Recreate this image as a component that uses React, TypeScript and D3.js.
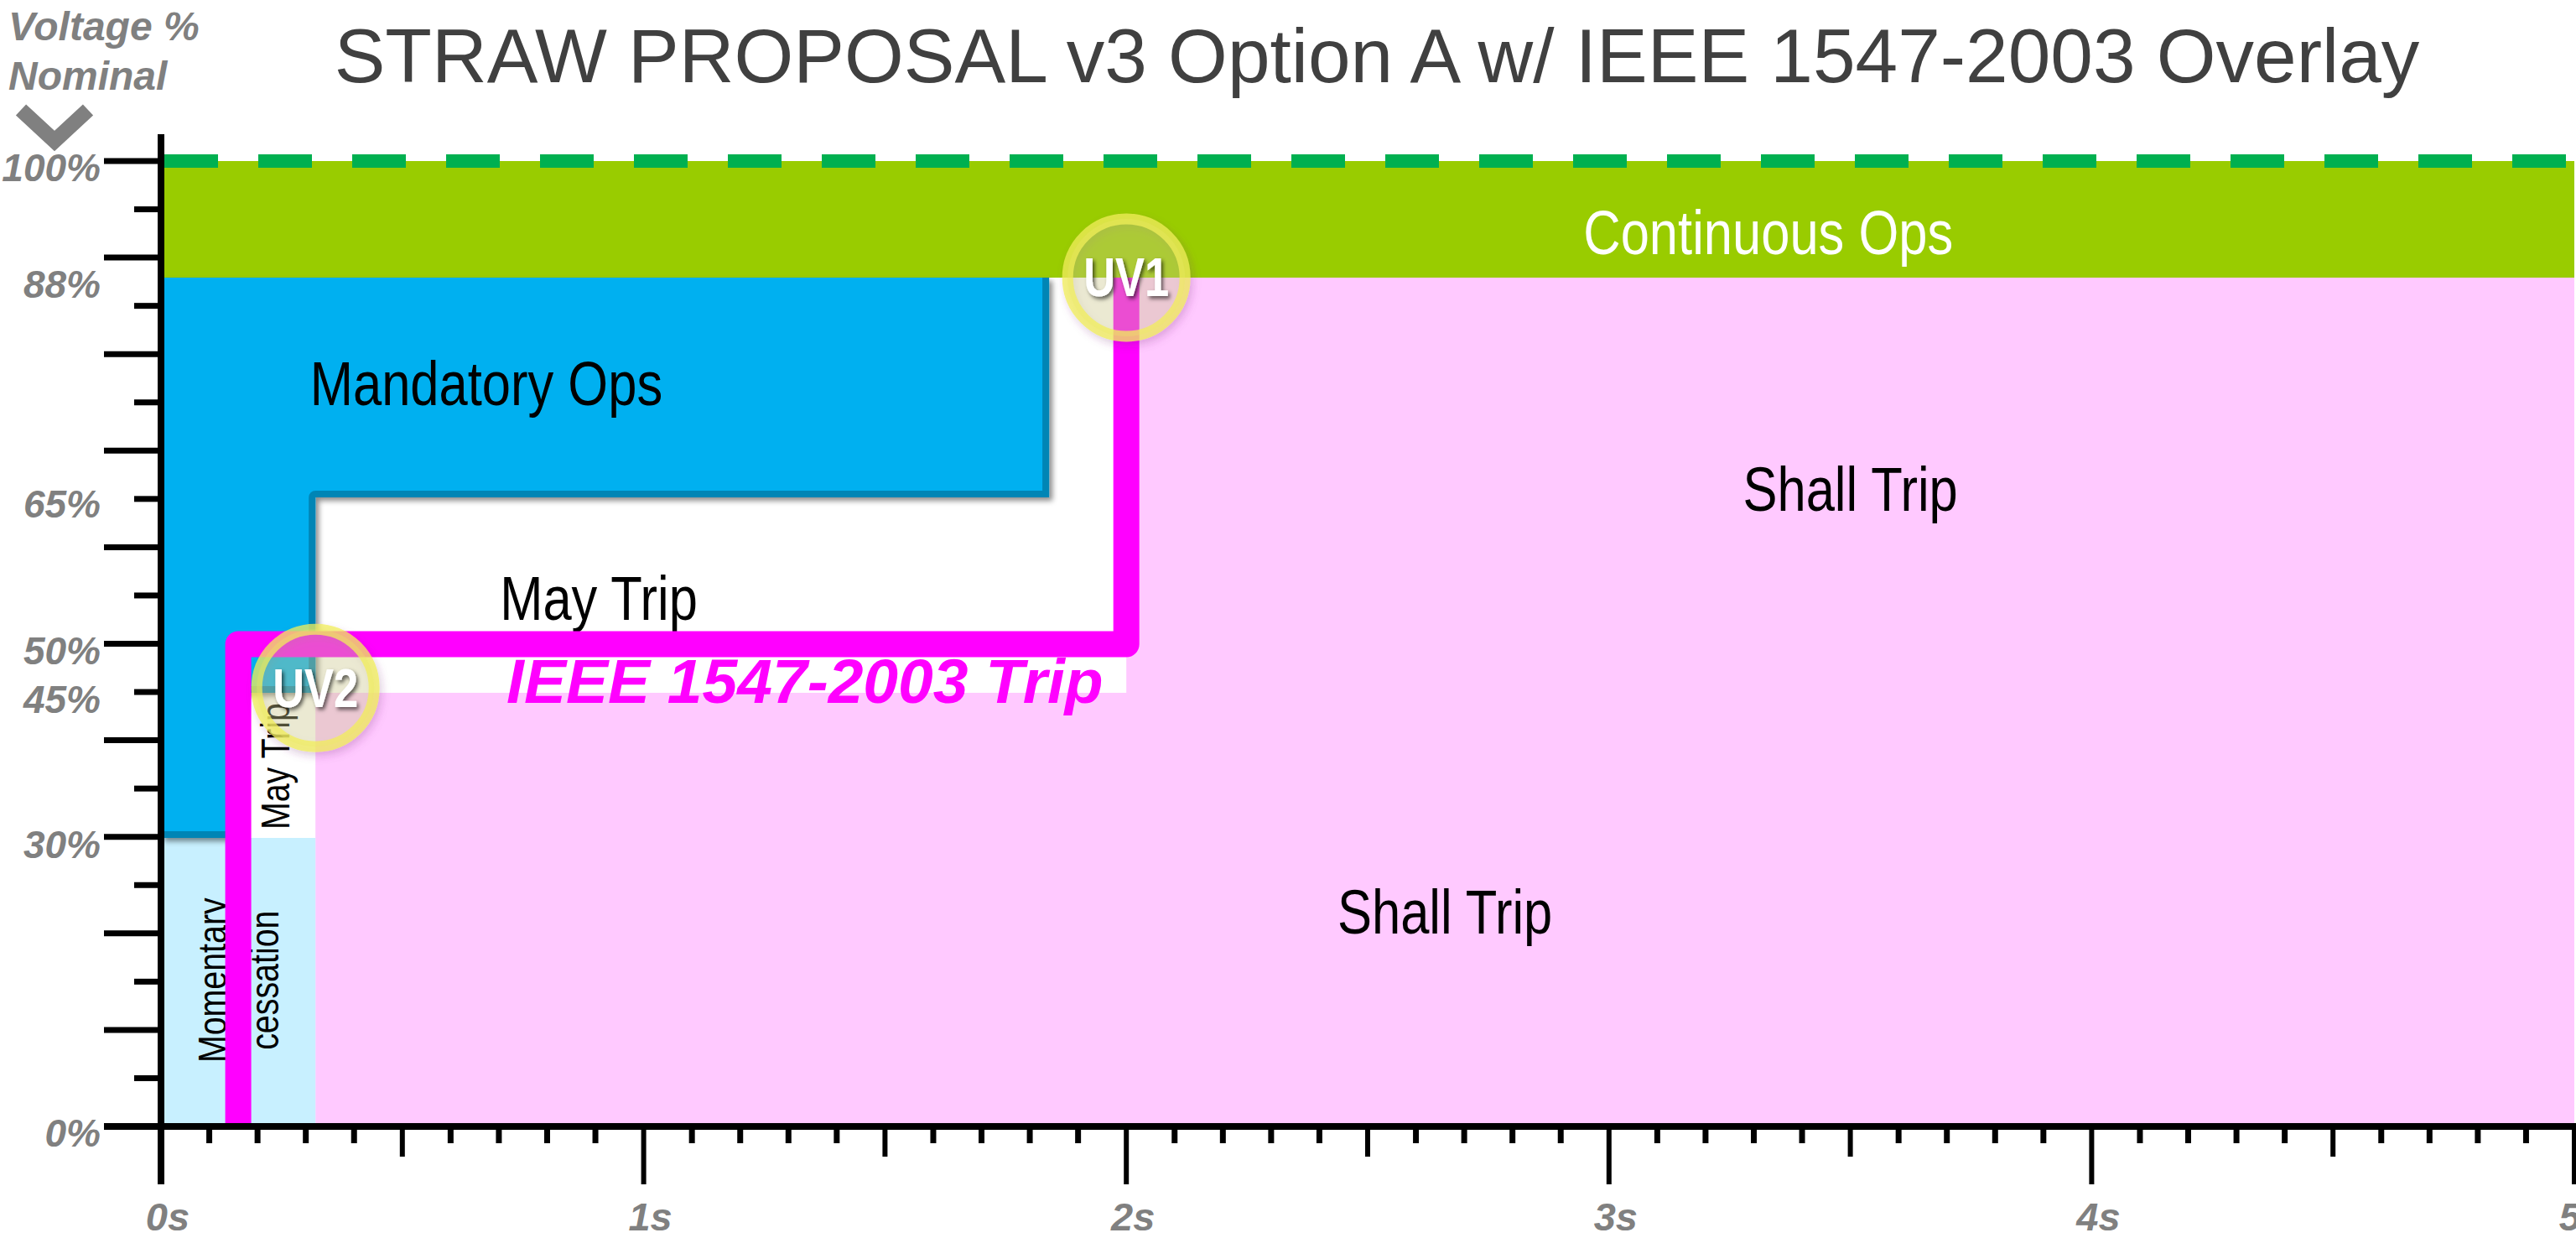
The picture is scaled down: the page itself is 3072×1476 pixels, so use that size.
import React from "react";
import * as d3 from "d3";

// ---------- data (time in seconds, voltage in % of nominal) ----------
const yTickLabels = [100, 88, 65, 50, 45, 30, 0];
const yScaleBreaks = [0, 30, 45, 50, 65, 88, 100];
const xTickLabels = [0, 1, 2, 3, 4, 5];
const timeDomain = [0, 5];

const continuousOps = { t0: 0, t1: 5, v0: 88, v1: 100 };
const shallTripUpper = { t0: 2, t1: 5, v0: 45, v1: 88 };
const shallTripLower = { t0: 0.32, t1: 5, v0: 0, v1: 45 };
const momentaryCessation = { t0: 0, t1: 0.32, v0: 0, v1: 30 };

const mandatoryOpsShape: [number, number][] = [
  [0, 88], [1.84, 88], [1.84, 65], [0.32, 65], [0.32, 45], [0.16, 45], [0.16, 30], [0, 30],
];
const mandatoryOpsEdge: [number, number][] = [
  [1.84, 88], [1.84, 65], [0.32, 65], [0.32, 45], [0.16, 45], [0.16, 30], [0, 30],
];
const ieeeTrip: [number, number][] = [[0.16, 0], [0.16, 50], [2, 50], [2, 88]];
const uvPoints = [
  { label: "UV1", t: 2, v: 88 },
  { label: "UV2", t: 0.32, v: 45.5 },
];

const regionLabels = [
  { text: "Continuous Ops", t: 3.33, v: 90.4, color: "#ffffff" },
  { text: "Mandatory Ops", t: 0.674, v: 74.7, color: "#000000" },
  { text: "May Trip", t: 0.907, v: 52.5, color: "#000000" },
  { text: "Shall Trip", t: 3.5, v: 63.6, color: "#000000" },
  { text: "Shall Trip", t: 2.66, v: 20.1, color: "#000000" },
];
const verticalLabels = [
  { text: "May Trip", t: 0.266, v: 37.4, size: 48 },
  { text: "Momentary", t: 0.1355, v: 15.2, size: 48 },
  { text: "cessation", t: 0.243, v: 15.2, size: 48 },
];
const ieeeLabel = { text: "IEEE 1547-2003 Trip", t: 1.334, v: 44.0 };

const title = "STRAW PROPOSAL v3 Option A w/ IEEE 1547-2003 Overlay";
const yTitle = ["Voltage %", "Nominal"];

// ---------- styling ----------
const SANS = "'Liberation Sans', Arial, sans-serif";
const GRAY = "#808080";
const CONDENSE = 0.82;

function NarrowText(props: {
  x: number;
  y: number;
  rotate?: number;
  size: number;
  fill: string;
  bold?: boolean;
  central?: boolean;
  filter?: string;
  children: React.ReactNode;
}) {
  const { x, y, rotate = 0, size, fill, bold, central, filter, children } = props;
  return (
    <g transform={`translate(${x},${y}) rotate(${rotate}) scale(${CONDENSE},1)`}>
      <text
        textAnchor="middle"
        dominantBaseline={central ? "central" : undefined}
        fontFamily={SANS}
        fontWeight={bold ? "bold" : "normal"}
        fontSize={size}
        fill={fill}
        filter={filter}
      >
        {children}
      </text>
    </g>
  );
}

export default function App() {
  const W = 3072;
  const H = 1476;
  const x = d3.scaleLinear().domain(timeDomain).range([192, 3070]);
  const y = d3.scaleLinear().domain(yScaleBreaks).range([1343, 999, 826, 768, 593, 331, 192]);
  const ruler = d3.scaleLinear().domain([0, 20]).range([y(100), y(0)]);

  const line = d3.line<[number, number]>().x((d) => x(d[0])).y((d) => y(d[1]));
  const rect = (r: { t0: number; t1: number; v0: number; v1: number }, fill: string, key: string) => (
    <rect key={key} x={x(r.t0)} y={y(r.v1)} width={x(r.t1) - x(r.t0)} height={y(r.v0) - y(r.v1)} fill={fill} />
  );

  const xTicks = d3.range(0, 51);
  const yTicks = d3.range(0, 21);

  return (
    <svg width={W} height={H} style={{ position: "absolute", left: 0, top: 0, display: "block", background: "#fff" }}>
      <defs>
        <filter id="blueShadow" x="-5%" y="-5%" width="115%" height="115%">
          <feDropShadow dx="4" dy="4" stdDeviation="3" floodColor="#000" floodOpacity="0.45" />
        </filter>
        <filter id="circleShadow" x="-30%" y="-30%" width="160%" height="160%">
          <feDropShadow dx="3" dy="5" stdDeviation="5" floodColor="#7a2a7a" floodOpacity="0.3" />
        </filter>
        <filter id="textShadow" x="-20%" y="-20%" width="140%" height="140%">
          <feDropShadow dx="3" dy="3" stdDeviation="2.5" floodColor="#000" floodOpacity="0.6" />
        </filter>
        <clipPath id="blueClip">
          <path d={line(mandatoryOpsShape) + "Z"} />
        </clipPath>
      </defs>

      {/* zones */}
      {rect(continuousOps, "#99CC00", "cont")}
      {rect(shallTripUpper, "#FFC9FF", "stu")}
      {rect(shallTripLower, "#FFC9FF", "stl")}
      {rect(momentaryCessation, "#C8F0FF", "mc")}

      <g filter="url(#blueShadow)">
        <path d={line(mandatoryOpsShape) + "Z"} fill="#00B0F0" />
      </g>
      <path
        d={line(mandatoryOpsEdge) || ""}
        fill="none"
        stroke="#0085B5"
        strokeWidth={16}
        strokeLinejoin="round"
        clipPath="url(#blueClip)"
      />

      {/* 100% nominal dashed line */}
      <line x1={x(0) + 4} x2={W} y1={y(100)} y2={y(100)} stroke="#00B050" strokeWidth={16} strokeDasharray="64 48" />

      {/* region labels */}
      {regionLabels.map((l, i) => (
        <NarrowText key={"rl" + i} x={x(l.t)} y={y(l.v)} size={75} fill={l.color}>
          {l.text}
        </NarrowText>
      ))}
      {verticalLabels.map((l, i) => (
        <NarrowText key={"vl" + i} x={x(l.t)} y={y(l.v)} rotate={-90} size={l.size} fill="#000">
          {l.text}
        </NarrowText>
      ))}

      {/* IEEE 1547-2003 trip curve */}
      <path d={line(ieeeTrip) || ""} fill="none" stroke="#FF00FF" strokeWidth={31} strokeLinejoin="round" strokeLinecap="butt" />
      <text
        x={x(ieeeLabel.t)}
        y={y(ieeeLabel.v)}
        textAnchor="middle"
        fontFamily={SANS}
        fontWeight="bold"
        fontStyle="italic"
        fontSize={75}
        fill="#FF00FF"
      >
        {ieeeLabel.text}
      </text>

      {/* UV markers */}
      {uvPoints.map((p) => (
        <g key={p.label} transform={`translate(${x(p.t)},${y(p.v)})`}>
          <g filter="url(#circleShadow)">
            <circle r={70} fill="#D7D78E" fillOpacity={0.32} stroke="#F2EE5A" strokeOpacity={0.75} strokeWidth={13} />
          </g>
          <NarrowText x={0} y={0} size={64} fill="#fff" bold central filter="url(#textShadow)">
            {p.label}
          </NarrowText>
        </g>
      ))}

      {/* y axis */}
      <line x1={x(0)} x2={x(0)} y1={160} y2={1412} stroke="#000" strokeWidth={8} />
      {yTicks.map((i) => (
        <line
          key={"yt" + i}
          x1={i % 2 === 0 ? 124 : 160}
          x2={x(0)}
          y1={ruler(i)}
          y2={ruler(i)}
          stroke="#000"
          strokeWidth={7}
        />
      ))}
      {yTickLabels.map((v) => (
        <text
          key={"yl" + v}
          x={120}
          y={y(v) + 8}
          textAnchor="end"
          dominantBaseline="central"
          fontFamily={SANS}
          fontWeight="bold"
          fontStyle="italic"
          fontSize={46}
          fill={GRAY}
        >
          {v}%
        </text>
      ))}

      {/* x axis */}
      <line x1={124} x2={W} y1={y(0)} y2={y(0)} stroke="#000" strokeWidth={8} />
      {xTicks.map((i) => {
        const len = i % 10 === 0 ? 69 : i % 5 === 0 ? 36 : 20;
        return (
          <line
            key={"xt" + i}
            x1={x(i / 10)}
            x2={x(i / 10)}
            y1={y(0)}
            y2={y(0) + len}
            stroke="#000"
            strokeWidth={i % 5 === 0 ? 6 : 7}
          />
        );
      })}
      {xTickLabels.map((t) => (
        <text
          key={"xl" + t}
          x={x(t) + 8}
          y={1467}
          textAnchor="middle"
          fontFamily={SANS}
          fontWeight="bold"
          fontStyle="italic"
          fontSize={47}
          fill={GRAY}
        >
          {t}s
        </text>
      ))}

      {/* axis title */}
      {yTitle.map((t, i) => (
        <text
          key={"ytt" + t}
          x={10}
          y={48 + i * 59}
          fontFamily={SANS}
          fontWeight="bold"
          fontStyle="italic"
          fontSize={48}
          fill={GRAY}
        >
          {t}
        </text>
      ))}
      <polyline points="25,131 65,168 105,131" fill="none" stroke={GRAY} strokeWidth={18} strokeLinejoin="miter" />

      {/* title */}
      <text x={1642} y={98} textAnchor="middle" fontFamily={SANS} fontSize={91} fill="#404040">
        {title}
      </text>
    </svg>
  );
}
